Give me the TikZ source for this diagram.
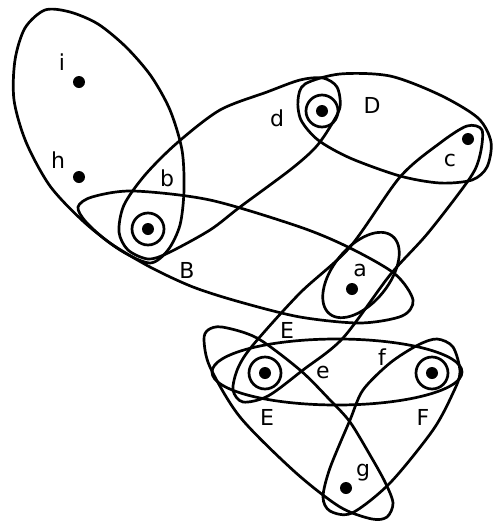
\documentclass[tikz,border=0pt]{standalone}
\usepackage{fontspec}
\setmainfont{DejaVu Sans}
\begin{document}
\begin{tikzpicture}[x=1pt,y=-1pt,
  hedge/.style={line width=2.7pt, line join=round},
  ring/.style={line width=2.7pt},
  vdot/.style={circle, fill=black, inner sep=0pt, minimum size=12pt},
  lab/.style={font=\fontsize{22}{22}\selectfont, inner sep=0pt}]
\useasboundingbox (0,0) rectangle (493,523);
% vertices
\node[vdot] (i) at (79,82) {};
\node[vdot] (h) at (79,177) {};
\node[vdot] (b) at (148,229) {};
\node[vdot] (d) at (322,111) {};
\node[vdot] (c) at (468,139) {};
\node[vdot] (a) at (352,289) {};
\node[vdot] (e) at (265,373) {};
\node[vdot] (f) at (432,373) {};
\node[vdot] (g) at (346,488) {};
% rings
\draw[ring] (b) circle[radius=16];
\draw[ring] (d) circle[radius=16];
\draw[ring] (e) circle[radius=16];
\draw[ring] (f) circle[radius=16];
% hyperedges
\draw[hedge] plot[smooth cycle] coordinates {(45,10) (70,12) (98,24) (126,47) (151,76) (170,110) (182,150) (184,190) (180,225) (168,250) (150,263) (120,250) (84,222) (50,186) (26,142) (14,100) (15,60) (25,28)};
\draw[hedge] plot[smooth cycle] coordinates {(78,207) (92,197) (133,191) (210,200) (300,227) (350,248) (395,274) (413,300) (402,316) (360,323) (300,317) (240,302) (193,287) (150,267) (110,243) (86,222)};
\draw[hedge] plot[smooth cycle] coordinates {(124,205) (145,175) (177,143) (220,110) (267,92) (300,80) (323,78) (337,87) (340,107) (330,127) (315,148) (290,170) (240,207) (210,230) (168,253) (148,259) (128,250) (119,232)};
\draw[hedge] plot[smooth cycle] coordinates {(298,100) (305,84) (340,74) (390,76) (440,95) (478,118) (491,142) (487,167) (472,180) (440,183) (400,176) (350,158) (318,140) (301,120)};
\draw[hedge] plot[smooth cycle] coordinates {(467,126) (482,130) (480,155) (470,178) (428,233) (390,275) (343,338) (303,370) (268,396) (243,402) (233,390) (238,368) (253,345) (300,293) (350,247) (400,177) (440,143)};
\draw[hedge, rotate around={51:(361,275)}] (361,275) ellipse[x radius=50, y radius=28];
\draw[hedge] (337,372) ellipse[x radius=125, y radius=33];
\draw[hedge] plot[smooth cycle] coordinates {(204,340) (208,330) (222,327) (257,338) (300,370) (330,400) (350,422) (370,455) (385,482) (393,503) (387,517) (372,519) (340,507) (295,472) (240,417) (210,367)};
\draw[hedge] plot[smooth cycle] coordinates {(437,339) (453,347) (460,372) (453,393) (433,430) (390,483) (352,513) (330,511) (323,497) (330,468) (350,420) (363,390) (390,363) (418,345)};
% labels
\node[lab] (li) at (62,62) {i};
\node[lab] (lh) at (58,160) {h};
\node[lab] (lb) at (167,178) {b};
\node[lab] (ld) at (277,118) {d};
\node[lab] (lD) at (372,105) {D};
\node[lab] (lc) at (450,160) {c};
\node[lab] (la) at (360,270) {a};
\node[lab] (lB) at (187,270) {B};
\node[lab] (lE1) at (287,330) {E};
\node[lab] (lE2) at (267,417) {E};
\node[lab] (le) at (323,372) {e};
\node[lab] (lf) at (382,357) {f};
\node[lab] (lF) at (423,417) {F};
\node[lab] (lg) at (363,473) {g};
\end{tikzpicture}
\end{document}
